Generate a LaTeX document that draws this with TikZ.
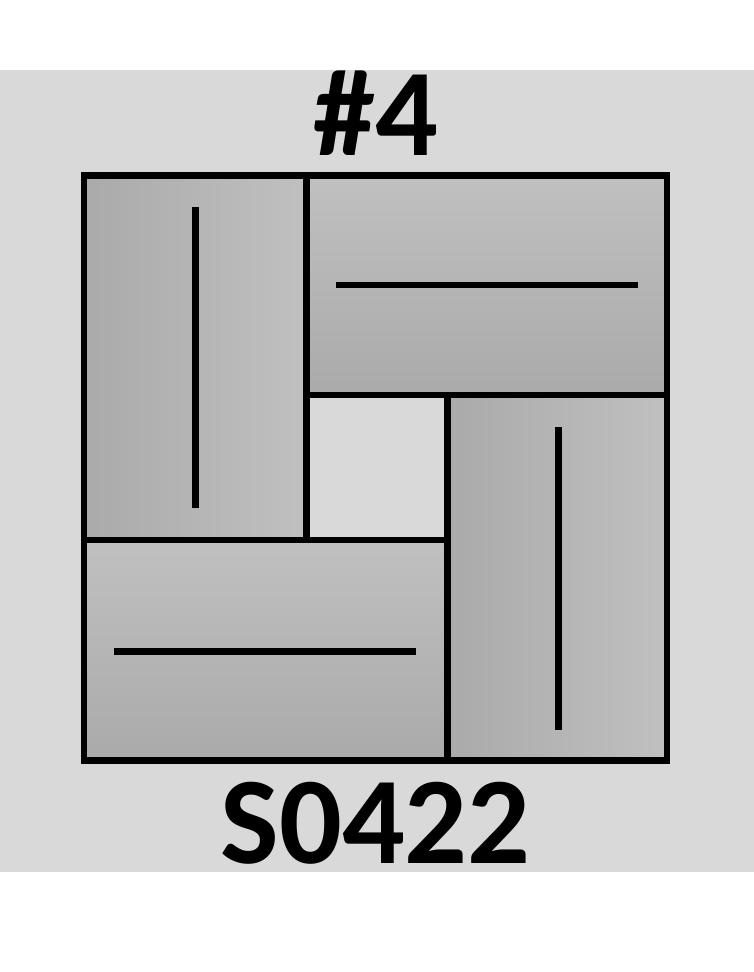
\documentclass[tikz,border=0pt]{standalone}
\usepackage{fontspec}
\setmainfont{Carlito}
\usetikzlibrary{positioning}
\definecolor{paneGray}{RGB}{217,217,217}
\definecolor{tileDark}{RGB}{170,170,170}
\definecolor{tileLight}{RGB}{192,192,192}

\begin{document}
\begin{tikzpicture}[x=0.75pt, y=-0.75pt,
    frame/.style={line width=4.8pt, black},
    groove/.style={line width=5pt, black},
    uptile/.style={left color=tileDark, right color=tileLight},
    flattile/.style={top color=tileLight, bottom color=tileDark},
    bigtext/.style={font=\bfseries\fontsize{93}{96}\selectfont, anchor=base, inner sep=0pt}]
    \useasboundingbox (0,0) rectangle (754,972);
    \fill[paneGray] (0,70) rectangle (754,872);

    % tiles
    \shade[uptile] (84,175.5) rectangle (306.5,540);
    \shade[flattile] (306.5,175.5) rectangle (667,395);
    \shade[uptile] (447.5,395) rectangle (667,760.5);
    \shade[flattile] (84,540) rectangle (447.5,760.5);

    % outlines
    \draw[frame] (84,175.5) rectangle (667,760.5);
    \draw[frame] (306.5,175.5) -- (306.5,540);
    \draw[frame] (306.5,395) -- (667,395);
    \draw[frame] (447.5,395) -- (447.5,760.5);
    \draw[frame] (84,540) -- (447.5,540);

    % grooves
    \draw[groove] (195.5,207) -- (195.5,508);
    \draw[groove] (336,285) -- (638,285);
    \draw[groove] (558.5,427) -- (558.5,730);
    \draw[groove] (114,651.5) -- (416,651.5);

    % labels
    \node[bigtext] (num) at (376,155) {\#4};
    \node[bigtext] (code) at (375.5,863) {S0422};
\end{tikzpicture}
\end{document}
